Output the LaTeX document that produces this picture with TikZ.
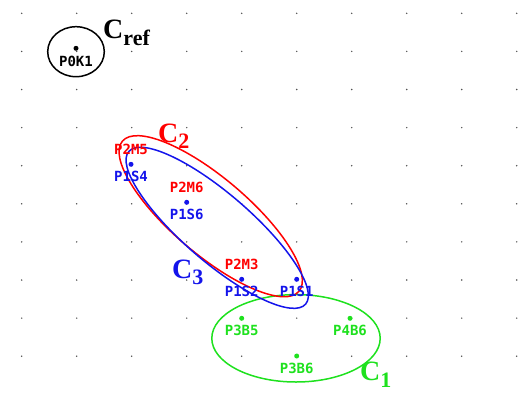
\documentclass[tikz,border=0pt]{standalone}
\usepackage{fontspec}
\setmainfont{Liberation Serif}
\newfontfamily\puntoFont{DejaVu Sans Mono}
\usetikzlibrary{
    shapes.geometric,
    positioning
}
\definecolor{colorRef}{RGB}{0, 0, 0}
\definecolor{colorUno}{RGB}{30, 225, 30}
\definecolor{colorDos}{RGB}{255, 0, 0}
\definecolor{colorTres}{RGB}{20, 20, 235}
\definecolor{colorRejilla}{RGB}{80, 80, 80}
\tikzset{
    rejilla/.style={
        circle, fill=colorRejilla, inner sep=0pt, minimum size=1.6pt
    },
    punto/.style={
        circle, fill, inner sep=0pt, minimum size=5pt
    },
    etiquetaPunto/.style={
        font=\puntoFont\bfseries\fontsize{14}{14}\selectfont, inner sep=0pt
    },
    grupo/.style={
        ellipse, draw, line width=1.5pt, inner sep=0pt
    },
    etiquetaGrupo/.style={
        font=\bfseries\fontsize{28}{28}\selectfont,
        inner sep=0pt, anchor=base west
    },
}
\newcommand{\subGrupo}[2]{{\fontsize{22}{22}\selectfont\raisebox{#1}{#2}}}

\begin{document}
\begin{tikzpicture}[x=1pt, y=-1pt]

    % ----------------------------------------------------------
    % MARCO Y REJILLA DE PUNTOS
    % ----------------------------------------------------------
    \useasboundingbox (0,0) rectangle (521,394);
    \foreach \i in {0,...,9}
        \foreach \j in {0,...,9}
            \node[rejilla] at (21.7+55*\i, 13.3+38.1*\j) {};

    % ----------------------------------------------------------
    % GRUPOS (elipses)
    % ----------------------------------------------------------
    \node[grupo, draw=colorRef, minimum width=56.6pt, minimum height=50pt]
        at (76, 51.7) (grupoRef) {};
    \node[grupo, draw=colorUno, minimum width=168.4pt, minimum height=87.4pt]
        at (296, 338.3) (grupoUno) {};
    \node[grupo, draw=colorDos, minimum width=231.8pt, minimum height=76.2pt,
          rotate=-40.4]
        at (210.7, 216.2) (grupoDos) {};
    \node[grupo, draw=colorTres, minimum width=233.6pt, minimum height=67.8pt,
          rotate=-40.8]
        at (217.2, 227.8) (grupoTres) {};

    % ----------------------------------------------------------
    % PUNTOS
    % ----------------------------------------------------------
    \node[punto, colorRef]  at (76, 48.3)    (p0k1) {};
    \node[punto, colorTres] at (131, 164.3)  (p1s4) {};
    \node[punto, colorTres] at (186.7, 202.3)(p1s6) {};
    \node[punto, colorTres] at (241.7, 279.3)(p1s2) {};
    \node[punto, colorTres] at (296.7, 279.3)(p1s1) {};
    \node[punto, colorUno]  at (241.7, 318.3)(p3b5) {};
    \node[punto, colorUno]  at (350, 318.3)  (p4b6) {};
    \node[punto, colorUno]  at (296.7, 356)  (p3b6) {};

    % ----------------------------------------------------------
    % ETIQUETAS DE PUNTOS
    % ----------------------------------------------------------
    \node[etiquetaPunto, text=colorRef,  below=5pt of p0k1] {P0K1};

    \node[etiquetaPunto, text=colorDos,  above=7pt of p1s4] {P2M5};
    \node[etiquetaPunto, text=colorDos,  above=7pt of p1s6] {P2M6};
    \node[etiquetaPunto, text=colorDos,  above=7pt of p1s2] {P2M3};

    \node[etiquetaPunto, text=colorTres, below=4pt of p1s4] {P1S4};
    \node[etiquetaPunto, text=colorTres, below=4pt of p1s6] {P1S6};
    \node[etiquetaPunto, text=colorTres, below=4pt of p1s2] {P1S2};
    \node[etiquetaPunto, text=colorTres, below=4pt of p1s1] {P1S1};

    \node[etiquetaPunto, text=colorUno,  below=4pt of p3b5] {P3B5};
    \node[etiquetaPunto, text=colorUno,  below=4pt of p4b6] {P4B6};
    \node[etiquetaPunto, text=colorUno,  below=4pt of p3b6] {P3B6};

    % ----------------------------------------------------------
    % ETIQUETAS DE GRUPOS
    % ----------------------------------------------------------
    \node[etiquetaGrupo, text=colorRef]  at (103, 38)  (nombreRef)
        {C\subGrupo{-7pt}{ref}};
    \node[etiquetaGrupo, text=colorDos]  at (158, 142) (nombreDos)
        {C\subGrupo{-6pt}{2}};
    \node[etiquetaGrupo, text=colorTres] at (172, 278) (nombreTres)
        {C\subGrupo{-6pt}{3}};
    \node[etiquetaGrupo, text=colorUno]  at (360, 380) (nombreUno)
        {C\subGrupo{-7pt}{1}};

\end{tikzpicture}
\end{document}
